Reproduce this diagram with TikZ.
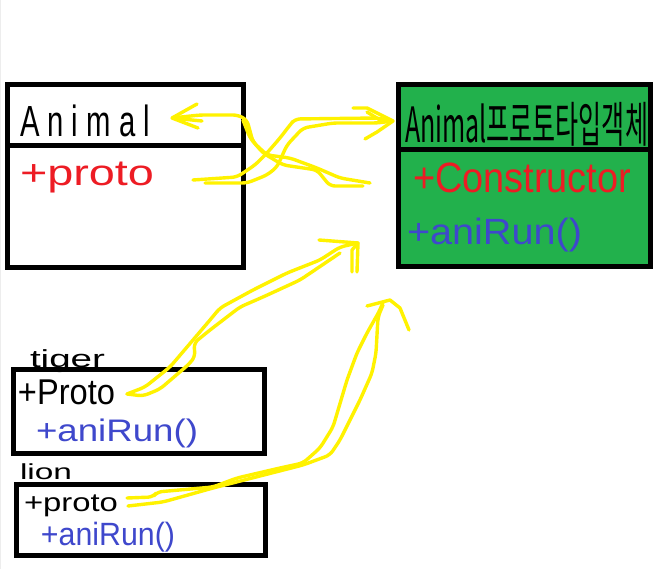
\documentclass[tikz,border=0pt]{standalone}
\usepackage{fontspec}
\usepackage{graphicx}
\setmainfont{Liberation Sans}
\newfontfamily\krfont{Noto Sans CJK KR}
\definecolor{pgreen}{HTML}{22B14C}
\definecolor{pyellow}{HTML}{FFF200}
\definecolor{pred}{HTML}{ED1C24}
\definecolor{pblue}{HTML}{3F48CC}
\newcommand{\fitbox}[3]{\resizebox*{#1pt}{#2pt}{#3}}
\tikzset{
  box/.style={draw=black,line width=5pt,inner sep=0pt,outer sep=0pt,anchor=north west},
  divider/.style={draw=black,line width=5pt},
  label/.style={inner sep=0pt,outer sep=0pt,anchor=north west},
  pen/.style={draw=pyellow,line width=3.4pt,line join=round,line cap=round,rounded corners=5pt},
}
\begin{document}
\begin{tikzpicture}[x=1pt,y=-1pt]
\useasboundingbox (0,0) rectangle (672,569);
\fill[white] (0,0) rectangle (672,569);
\fill[black!7] (0,0) rectangle (1,569);
% boxes
\node[box,fill=white,minimum width=236pt,minimum height=183pt] (animal) at (7.5,84.5) {};
\coordinate (adl) at (7.5,145.5); \coordinate (adr) at (243.5,145.5);
\draw[divider] (adl) -- (adr);
\node[box,fill=pgreen,minimum width=252pt,minimum height=182pt] (protoobj) at (398.5,84.5) {};
\coordinate (gdl) at (398.5,149.5); \coordinate (gdr) at (650.5,149.5);
\draw[divider] (gdl) -- (gdr);
\node[box,fill=white,minimum width=251pt,minimum height=84pt] (tiger) at (13.5,369.5) {};
\node[box,fill=white,minimum width=249pt,minimum height=71pt] (lion) at (16.5,484.5) {};
% texts
\node[label,text=black] (tanimal) at (20,105) {\fitbox{130}{32}{A n i m a l}};
\node[label,text=pred] (taproto) at (20,162) {\fitbox{134}{31}{+proto}};
\node[label,text=black] (ttitle) at (405,102) {\fitbox{243}{44}{\krfont Animal프로토타입객체}};
\node[label,text=pred] (tcons) at (413,163) {\fitbox{218}{30}{+Constructor}};
\node[label,text=pblue] (tgrun) at (407,218) {\fitbox{175}{34}{+aniRun()}};
\node[label,text=black] (ttiger) at (30,350) {\fitbox{75}{23}{tiger}};
\node[label,text=black] (ttproto) at (18,380) {\fitbox{97}{25}{+Proto}};
\node[label,text=pblue] (ttrun) at (36,419) {\fitbox{162}{29}{+aniRun()}};
\node[label,text=black] (tlion) at (20,464) {\fitbox{52}{16}{lion}};
\node[label,text=black] (tlproto) at (24,495) {\fitbox{94}{22}{+proto}};
\node[label,text=pblue] (tlrun) at (41,522) {\fitbox{134}{30}{+aniRun()}};
% free ends of the connectors
\coordinate (s1) at (193,180);
\coordinate (t1) at (393,121);
\coordinate (s2) at (370,183);
\coordinate (t2) at (172,118);
\coordinate (s3) at (127,394);
\coordinate (t3) at (358,243);
\coordinate (s4) at (127,498);
\coordinate (t4) at (390,300);
% Animal to prototype object
\draw[pen] (s1) -- (237,177) -- (255,165) -- (267,153) -- (280,138) -- (290,125) -- (295,119) -- (377,118) -- (t1)
  -- (377,123) -- (333,123) -- (303,128) -- (287,145) -- (277,167) -- (267,175) -- (247,183) -- (205,183);
\draw[pen,rounded corners=0pt] (353,108) -- (367,108) -- (t1) -- (377,132) -- (365,139);
\draw[pen,rounded corners=0pt] (367,112) -- (380,120);
% prototype object to Animal
\draw[pen] (s2) -- (340,178) -- (317,168) -- (290,158) -- (267,155) -- (253,142) -- (247,120) -- (238,115) -- (200,115) -- (t2) -- (202,121);
\draw[pen] (363,186) -- (330,186) -- (317,170) -- (283,165) -- (263,153) -- (250,138) -- (243,120);
\draw[pen,rounded corners=0pt] (197,104) -- (t2) -- (198,128);
% tiger to prototype object
\draw[pen] (s3) -- (145,387) -- (170,367) -- (193,340) -- (210,320) -- (220,308) -- (253,290) -- (287,273) -- (320,260) -- (340,247) -- (t3);
\draw[pen] (s3) -- (143,396) -- (160,389) -- (188,365) -- (195,357) -- (194,343) -- (210,330) -- (240,307) -- (263,297) -- (300,280) -- (340,253);
\draw[pen,rounded corners=0pt] (319,240) -- (t3) -- (357,272);
\draw[pen,rounded corners=0pt] (352,272) -- (352,250) -- (t3);
% lion to prototype object
\draw[pen] (s4) -- (153,497) -- (157,492) -- (213,487) -- (237,478) -- (280,468) -- (303,463) -- (320,448) -- (333,427) -- (347,380) -- (357,353) -- (367,333) -- (380,310) -- (383,302);
\draw[pen] (128,506) -- (163,502) -- (213,488) -- (303,465) -- (330,455) -- (340,440) -- (360,400) -- (372,373) -- (376,353) -- (378,317) -- (383,305);
\draw[pen,rounded corners=0pt] (367,306) -- (t4) -- (400,308) -- (409,330);
\end{tikzpicture}
\end{document}
